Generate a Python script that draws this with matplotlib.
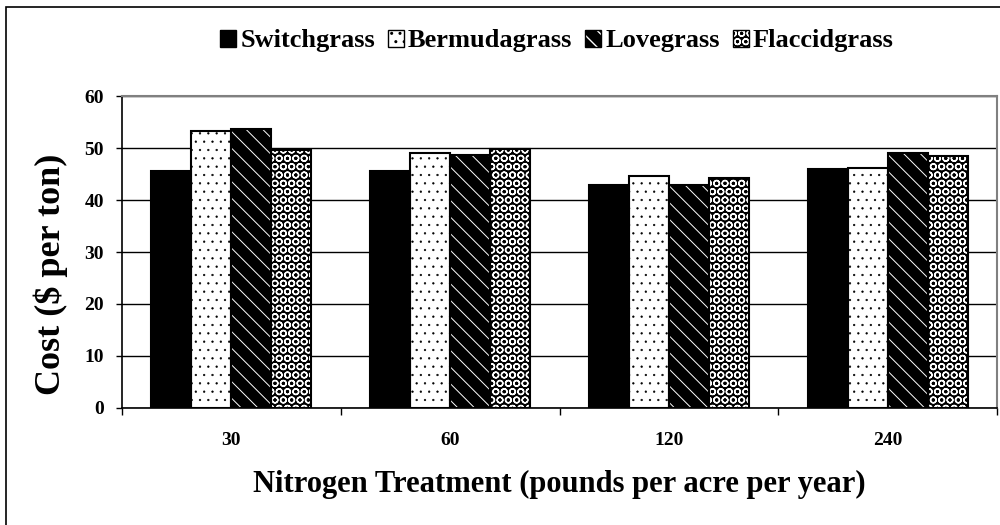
import matplotlib
matplotlib.use('Agg')
import matplotlib.pyplot as plt
import numpy as np
from matplotlib.patches import Patch, Rectangle
from matplotlib.legend_handler import HandlerTuple

plt.rcParams['font.family'] = ['Liberation Serif', 'DejaVu Serif']
plt.rcParams['font.weight'] = 'bold'
plt.rcParams['axes.labelweight'] = 'bold'

treatments = ['30', '60', '120', '240']
grasses = ['Switchgrass', 'Bermudagrass', 'Lovegrass', 'Flaccidgrass']
switchgrass = [45.5, 45.5, 42.8, 45.9]
bermudagrass = [53.2, 49.0, 44.7, 46.2]
lovegrass = [53.6, 48.6, 42.8, 49.0]
flaccidgrass = [49.7, 49.9, 44.3, 48.5]
values = [switchgrass, bermudagrass, lovegrass, flaccidgrass]

# face colour, hatch, hatch colour, hatch linewidth
styles = [
    ('black', None, 'black', 1.0),
    ('white', '..', 'black', 0.4),
    ('black', '\\\\', 'white', 0.7),
    ('black', 'OO', 'white', 1.0),
]

fig = plt.figure(figsize=(10, 5.25), dpi=100)
ax = fig.add_axes([0.122, 0.2229, 0.875, 0.5942])

# outer frame of the chart area (clipped at right and bottom like the original)
fig.patches.append(Rectangle((0.006, -0.1), 1.2, 0.987 + 0.1, transform=fig.transFigure,
                             fill=False, edgecolor='black', linewidth=1.2, zorder=0))

x = np.arange(len(treatments))
width = 0.183
handles = []
for i, (name, vals) in enumerate(zip(grasses, values)):
    face, hatch, hcol, hlw = styles[i]
    pos = x + (i - 1.5) * width
    with plt.rc_context({'hatch.linewidth': hlw}):
        ax.bar(pos, vals, width, color=face, hatch=hatch, edgecolor=hcol,
               linewidth=0, zorder=3)
        proxy = Patch(facecolor=face, hatch=hatch, edgecolor=hcol, linewidth=0)
    ax.bar(pos, vals, width, fill=False, edgecolor='black', linewidth=1.5, zorder=4)
    outline = Patch(fill=False, edgecolor='black', linewidth=1.0)
    handles.append((proxy, outline))

ax.set_ylim(0, 60)
ax.set_xlim(-0.5, 3.5)
ax.set_yticks(range(0, 61, 10))
ax.yaxis.grid(True, color='black', linewidth=1.0, zorder=0)
ax.set_axisbelow(True)
ax.tick_params(axis='y', direction='out', length=4, width=1, labelsize=14, pad=9)

ax.set_xticks(x)
ax.set_xticklabels(treatments, fontsize=14)
ax.set_xticks(np.arange(-0.5, 4.0, 1.0), minor=True)
ax.tick_params(axis='x', which='major', length=0, pad=17)
ax.tick_params(axis='x', which='minor', direction='out', length=5, width=1)

for side in ['top', 'right']:
    ax.spines[side].set_color('#808080')
    ax.spines[side].set_linewidth(1.5)
for side in ['left', 'bottom']:
    ax.spines[side].set_color('black')
    ax.spines[side].set_linewidth(1.2)

ax.set_ylabel('Cost ($ per ton)', fontsize=26)
ax.yaxis.set_label_coords(-0.062, 0.43)
ax.set_xlabel('Nitrogen Treatment (pounds per acre per year)', fontsize=22)
ax.xaxis.set_label_coords(0.5, -0.2)

fig.legend(handles, grasses, handler_map={tuple: HandlerTuple(ndivide=1)},
           loc='center', bbox_to_anchor=(0.557, 0.922), ncol=4, frameon=False,
           fontsize=19, handlelength=0.6, handleheight=0.6, handletextpad=0.15,
           columnspacing=0.5)

plt.savefig('out.png', dpi=100)
